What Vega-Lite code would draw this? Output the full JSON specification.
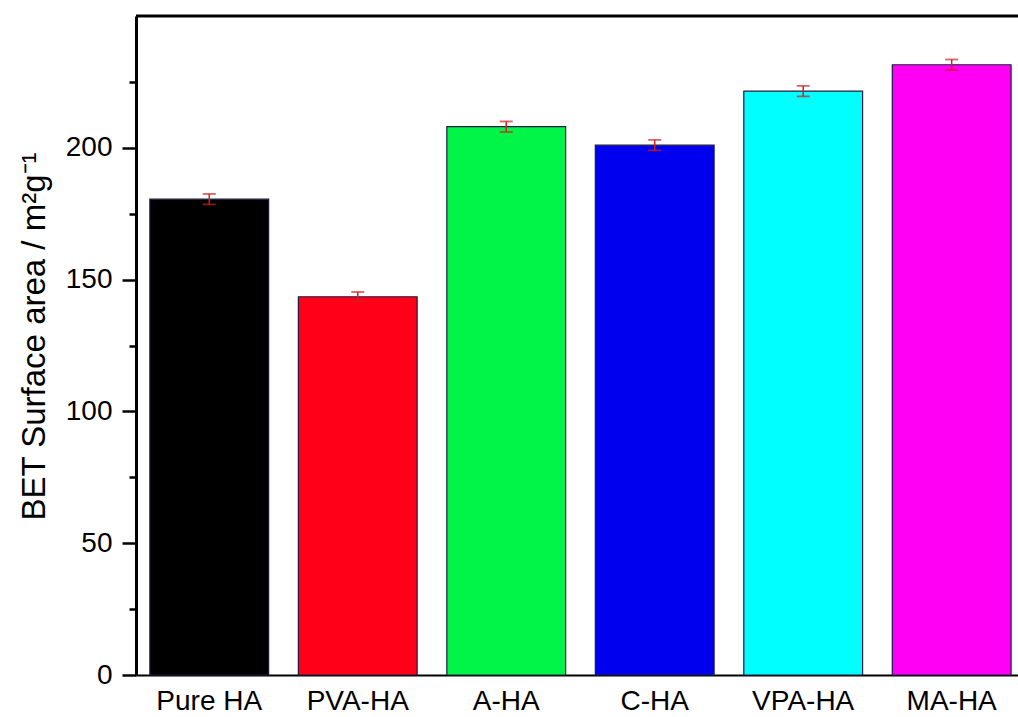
{
  "$schema": "https://vega.github.io/schema/vega-lite/v6.json",
  "width": 882,
  "height": 659,
  "autosize": {"type": "none"},
  "padding": {"left": 136, "top": 16, "right": 0, "bottom": 42},
  "background": "white",
  "config": {
    "view": {"stroke": null},
    "font": "Liberation Sans",
    "axis": {"grid": false, "labelFont": "Liberation Sans", "titleFont": "Liberation Sans", "labelColor": "black", "titleColor": "black", "domainColor": "black", "tickColor": "black"}
  },
  "data": {
    "values": [
      {"sample": "Pure HA", "area": 180.5, "lo": 178.5, "hi": 182.5},
      {"sample": "PVA-HA", "area": 143.5, "lo": 141.8, "hi": 145.3},
      {"sample": "A-HA", "area": 208, "lo": 206, "hi": 210},
      {"sample": "C-HA", "area": 201, "lo": 199, "hi": 203},
      {"sample": "VPA-HA", "area": 221.5, "lo": 219.5, "hi": 223.5},
      {"sample": "MA-HA", "area": 231.5, "lo": 229.5, "hi": 233.5}
    ]
  },
  "layer": [
    {
      "mark": {"type": "bar", "stroke": "#1c1c40", "strokeWidth": 1.2},
      "encoding": {
        "x": {
          "field": "sample", "type": "nominal", "sort": null,
          "scale": {"paddingInner": 0.2, "paddingOuter": 0.07, "align": 0.667},
          "axis": {"title": null, "labelAngle": 0, "labelFontSize": 28, "ticks": false, "labelPadding": 12, "domainWidth": 2}
        },
        "y": {
          "field": "area", "type": "quantitative",
          "scale": {"domain": [0, 250], "nice": false, "zero": true},
          "axis": {
            "title": "BET Surface area / m²g⁻¹",
            "titleFontSize": 33, "titleFontWeight": "normal", "titlePadding": 14, "titleY": 320,
            "values": [0, 25, 50, 75, 100, 125, 150, 175, 200, 225],
            "labelExpr": "datum.value % 50 === 0 ? datum.label : ''",
            "labelFontSize": 28, "labelPadding": 10,
            "tickSize": {"condition": {"test": "datum.value % 50 === 0", "value": 14}, "value": 7},
            "tickWidth": 2.5, "domainWidth": 3
          }
        },
        "color": {
          "field": "sample", "type": "nominal", "sort": null, "legend": null,
          "scale": {
            "domain": ["Pure HA", "PVA-HA", "A-HA", "C-HA", "VPA-HA", "MA-HA"],
            "range": ["#000000", "#ff0018", "#00f548", "#0000ee", "#00ffff", "#ff00f5"]
          }
        }
      }
    },
    {
      "mark": {"type": "rule", "color": "#d02020", "strokeWidth": 1.5},
      "encoding": {
        "x": {"field": "sample", "type": "nominal", "sort": null},
        "y": {"field": "lo", "type": "quantitative"}, "y2": {"field": "hi"}
      }
    },
    {
      "mark": {"type": "tick", "color": "#d02020", "thickness": 1.8, "size": 13},
      "encoding": {
        "x": {"field": "sample", "type": "nominal", "sort": null},
        "y": {"field": "lo", "type": "quantitative"}
      }
    },
    {
      "mark": {"type": "tick", "color": "#d02020", "thickness": 1.8, "size": 13},
      "encoding": {
        "x": {"field": "sample", "type": "nominal", "sort": null},
        "y": {"field": "hi", "type": "quantitative"}
      }
    },
    {
      "data": {"values": [{"top": 250}]},
      "mark": {"type": "rule", "color": "black", "strokeWidth": 3},
      "encoding": {"y": {"field": "top", "type": "quantitative"}}
    }
  ]
}
